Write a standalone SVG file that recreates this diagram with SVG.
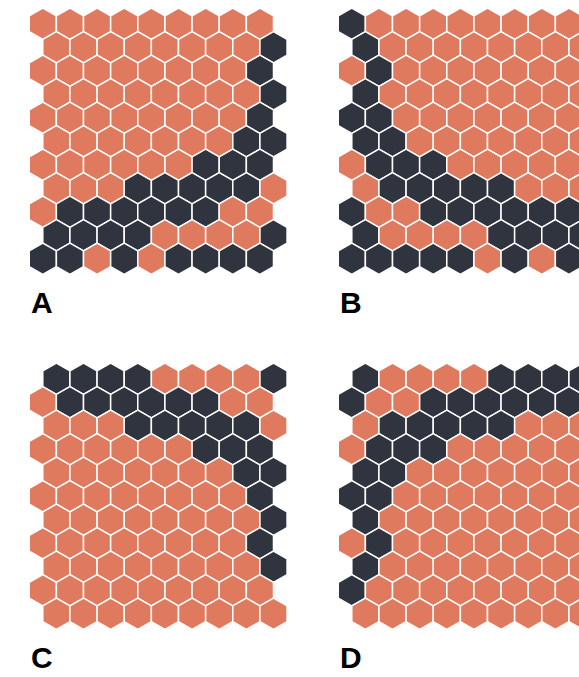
<svg xmlns="http://www.w3.org/2000/svg" width="579" height="677" viewBox="0 0 579 677">
<style>
.o{fill:#E07A5F}
.d{fill:#30343F}
use{stroke:#FFFFFF;stroke-width:1.5;stroke-linejoin:miter}
.lbl{font-family:"Liberation Sans",Arial,sans-serif;font-weight:bold;font-size:30px;fill:#000}
</style>
<defs>
<polygon id="h" points="0,-15.67 13.57,-7.835 13.57,7.835 0,15.67 -13.57,7.835 -13.57,-7.835"/>
</defs>
<rect width="579" height="677" fill="#FFFFFF"/>

<g id="panelA">
<g transform="translate(42.8,23.8)"><use href="#h" x="0" class="o"/><use href="#h" x="27.14" class="o"/><use href="#h" x="54.28" class="o"/><use href="#h" x="81.42" class="o"/><use href="#h" x="108.56" class="o"/><use href="#h" x="135.7" class="o"/><use href="#h" x="162.84" class="o"/><use href="#h" x="189.98" class="o"/><use href="#h" x="217.12" class="o"/></g>
<g transform="translate(56.37,47.3)"><use href="#h" x="0" class="o"/><use href="#h" x="27.14" class="o"/><use href="#h" x="54.28" class="o"/><use href="#h" x="81.42" class="o"/><use href="#h" x="108.56" class="o"/><use href="#h" x="135.7" class="o"/><use href="#h" x="162.84" class="o"/><use href="#h" x="189.98" class="o"/><use href="#h" x="217.12" class="d"/></g>
<g transform="translate(42.8,70.8)"><use href="#h" x="0" class="o"/><use href="#h" x="27.14" class="o"/><use href="#h" x="54.28" class="o"/><use href="#h" x="81.42" class="o"/><use href="#h" x="108.56" class="o"/><use href="#h" x="135.7" class="o"/><use href="#h" x="162.84" class="o"/><use href="#h" x="189.98" class="o"/><use href="#h" x="217.12" class="d"/></g>
<g transform="translate(56.37,94.3)"><use href="#h" x="0" class="o"/><use href="#h" x="27.14" class="o"/><use href="#h" x="54.28" class="o"/><use href="#h" x="81.42" class="o"/><use href="#h" x="108.56" class="o"/><use href="#h" x="135.7" class="o"/><use href="#h" x="162.84" class="o"/><use href="#h" x="189.98" class="o"/><use href="#h" x="217.12" class="d"/></g>
<g transform="translate(42.8,117.8)"><use href="#h" x="0" class="o"/><use href="#h" x="27.14" class="o"/><use href="#h" x="54.28" class="o"/><use href="#h" x="81.42" class="o"/><use href="#h" x="108.56" class="o"/><use href="#h" x="135.7" class="o"/><use href="#h" x="162.84" class="o"/><use href="#h" x="189.98" class="o"/><use href="#h" x="217.12" class="d"/></g>
<g transform="translate(56.37,141.3)"><use href="#h" x="0" class="o"/><use href="#h" x="27.14" class="o"/><use href="#h" x="54.28" class="o"/><use href="#h" x="81.42" class="o"/><use href="#h" x="108.56" class="o"/><use href="#h" x="135.7" class="o"/><use href="#h" x="162.84" class="o"/><use href="#h" x="189.98" class="d"/><use href="#h" x="217.12" class="d"/></g>
<g transform="translate(42.8,164.8)"><use href="#h" x="0" class="o"/><use href="#h" x="27.14" class="o"/><use href="#h" x="54.28" class="o"/><use href="#h" x="81.42" class="o"/><use href="#h" x="108.56" class="o"/><use href="#h" x="135.7" class="o"/><use href="#h" x="162.84" class="d"/><use href="#h" x="189.98" class="d"/><use href="#h" x="217.12" class="d"/></g>
<g transform="translate(56.37,188.3)"><use href="#h" x="0" class="o"/><use href="#h" x="27.14" class="o"/><use href="#h" x="54.28" class="o"/><use href="#h" x="81.42" class="d"/><use href="#h" x="108.56" class="d"/><use href="#h" x="135.7" class="d"/><use href="#h" x="162.84" class="d"/><use href="#h" x="189.98" class="d"/><use href="#h" x="217.12" class="o"/></g>
<g transform="translate(42.8,211.8)"><use href="#h" x="0" class="o"/><use href="#h" x="27.14" class="d"/><use href="#h" x="54.28" class="d"/><use href="#h" x="81.42" class="d"/><use href="#h" x="108.56" class="d"/><use href="#h" x="135.7" class="d"/><use href="#h" x="162.84" class="d"/><use href="#h" x="189.98" class="o"/><use href="#h" x="217.12" class="o"/></g>
<g transform="translate(56.37,235.3)"><use href="#h" x="0" class="d"/><use href="#h" x="27.14" class="d"/><use href="#h" x="54.28" class="d"/><use href="#h" x="81.42" class="d"/><use href="#h" x="108.56" class="o"/><use href="#h" x="135.7" class="o"/><use href="#h" x="162.84" class="o"/><use href="#h" x="189.98" class="o"/><use href="#h" x="217.12" class="d"/></g>
<g transform="translate(42.8,258.8)"><use href="#h" x="0" class="d"/><use href="#h" x="27.14" class="d"/><use href="#h" x="54.28" class="o"/><use href="#h" x="81.42" class="d"/><use href="#h" x="108.56" class="o"/><use href="#h" x="135.7" class="d"/><use href="#h" x="162.84" class="d"/><use href="#h" x="189.98" class="d"/><use href="#h" x="217.12" class="d"/></g>
<text class="lbl" x="31" y="313">A</text>
</g>

<g id="panelB" transform="translate(309,0)">
<g transform="translate(42.8,23.8)"><use href="#h" x="0" class="d"/><use href="#h" x="27.14" class="o"/><use href="#h" x="54.28" class="o"/><use href="#h" x="81.42" class="o"/><use href="#h" x="108.56" class="o"/><use href="#h" x="135.7" class="o"/><use href="#h" x="162.84" class="o"/><use href="#h" x="189.98" class="o"/><use href="#h" x="217.12" class="o"/></g>
<g transform="translate(56.37,47.3)"><use href="#h" x="0" class="d"/><use href="#h" x="27.14" class="o"/><use href="#h" x="54.28" class="o"/><use href="#h" x="81.42" class="o"/><use href="#h" x="108.56" class="o"/><use href="#h" x="135.7" class="o"/><use href="#h" x="162.84" class="o"/><use href="#h" x="189.98" class="o"/><use href="#h" x="217.12" class="o"/></g>
<g transform="translate(42.8,70.8)"><use href="#h" x="0" class="o"/><use href="#h" x="27.14" class="d"/><use href="#h" x="54.28" class="o"/><use href="#h" x="81.42" class="o"/><use href="#h" x="108.56" class="o"/><use href="#h" x="135.7" class="o"/><use href="#h" x="162.84" class="o"/><use href="#h" x="189.98" class="o"/><use href="#h" x="217.12" class="o"/></g>
<g transform="translate(56.37,94.3)"><use href="#h" x="0" class="d"/><use href="#h" x="27.14" class="o"/><use href="#h" x="54.28" class="o"/><use href="#h" x="81.42" class="o"/><use href="#h" x="108.56" class="o"/><use href="#h" x="135.7" class="o"/><use href="#h" x="162.84" class="o"/><use href="#h" x="189.98" class="o"/><use href="#h" x="217.12" class="o"/></g>
<g transform="translate(42.8,117.8)"><use href="#h" x="0" class="d"/><use href="#h" x="27.14" class="d"/><use href="#h" x="54.28" class="o"/><use href="#h" x="81.42" class="o"/><use href="#h" x="108.56" class="o"/><use href="#h" x="135.7" class="o"/><use href="#h" x="162.84" class="o"/><use href="#h" x="189.98" class="o"/><use href="#h" x="217.12" class="o"/></g>
<g transform="translate(56.37,141.3)"><use href="#h" x="0" class="d"/><use href="#h" x="27.14" class="d"/><use href="#h" x="54.28" class="o"/><use href="#h" x="81.42" class="o"/><use href="#h" x="108.56" class="o"/><use href="#h" x="135.7" class="o"/><use href="#h" x="162.84" class="o"/><use href="#h" x="189.98" class="o"/><use href="#h" x="217.12" class="o"/></g>
<g transform="translate(42.8,164.8)"><use href="#h" x="0" class="o"/><use href="#h" x="27.14" class="d"/><use href="#h" x="54.28" class="d"/><use href="#h" x="81.42" class="d"/><use href="#h" x="108.56" class="o"/><use href="#h" x="135.7" class="o"/><use href="#h" x="162.84" class="o"/><use href="#h" x="189.98" class="o"/><use href="#h" x="217.12" class="o"/></g>
<g transform="translate(56.37,188.3)"><use href="#h" x="0" class="o"/><use href="#h" x="27.14" class="d"/><use href="#h" x="54.28" class="d"/><use href="#h" x="81.42" class="d"/><use href="#h" x="108.56" class="d"/><use href="#h" x="135.7" class="d"/><use href="#h" x="162.84" class="o"/><use href="#h" x="189.98" class="o"/><use href="#h" x="217.12" class="o"/></g>
<g transform="translate(42.8,211.8)"><use href="#h" x="0" class="d"/><use href="#h" x="27.14" class="o"/><use href="#h" x="54.28" class="o"/><use href="#h" x="81.42" class="d"/><use href="#h" x="108.56" class="d"/><use href="#h" x="135.7" class="d"/><use href="#h" x="162.84" class="d"/><use href="#h" x="189.98" class="d"/><use href="#h" x="217.12" class="d"/></g>
<g transform="translate(56.37,235.3)"><use href="#h" x="0" class="d"/><use href="#h" x="27.14" class="o"/><use href="#h" x="54.28" class="o"/><use href="#h" x="81.42" class="o"/><use href="#h" x="108.56" class="o"/><use href="#h" x="135.7" class="d"/><use href="#h" x="162.84" class="d"/><use href="#h" x="189.98" class="d"/><use href="#h" x="217.12" class="d"/></g>
<g transform="translate(42.8,258.8)"><use href="#h" x="0" class="d"/><use href="#h" x="27.14" class="d"/><use href="#h" x="54.28" class="d"/><use href="#h" x="81.42" class="d"/><use href="#h" x="108.56" class="d"/><use href="#h" x="135.7" class="o"/><use href="#h" x="162.84" class="d"/><use href="#h" x="189.98" class="o"/><use href="#h" x="217.12" class="d"/></g>
<text class="lbl" x="31" y="313">B</text>
</g>

<g id="panelC" transform="translate(0,355)">
<g transform="translate(56.37,23.8)"><use href="#h" x="0" class="d"/><use href="#h" x="27.14" class="d"/><use href="#h" x="54.28" class="d"/><use href="#h" x="81.42" class="d"/><use href="#h" x="108.56" class="o"/><use href="#h" x="135.7" class="o"/><use href="#h" x="162.84" class="o"/><use href="#h" x="189.98" class="o"/><use href="#h" x="217.12" class="d"/></g>
<g transform="translate(42.8,47.3)"><use href="#h" x="0" class="o"/><use href="#h" x="27.14" class="d"/><use href="#h" x="54.28" class="d"/><use href="#h" x="81.42" class="d"/><use href="#h" x="108.56" class="d"/><use href="#h" x="135.7" class="d"/><use href="#h" x="162.84" class="d"/><use href="#h" x="189.98" class="o"/><use href="#h" x="217.12" class="o"/></g>
<g transform="translate(56.37,70.8)"><use href="#h" x="0" class="o"/><use href="#h" x="27.14" class="o"/><use href="#h" x="54.28" class="o"/><use href="#h" x="81.42" class="d"/><use href="#h" x="108.56" class="d"/><use href="#h" x="135.7" class="d"/><use href="#h" x="162.84" class="d"/><use href="#h" x="189.98" class="d"/><use href="#h" x="217.12" class="o"/></g>
<g transform="translate(42.8,94.3)"><use href="#h" x="0" class="o"/><use href="#h" x="27.14" class="o"/><use href="#h" x="54.28" class="o"/><use href="#h" x="81.42" class="o"/><use href="#h" x="108.56" class="o"/><use href="#h" x="135.7" class="o"/><use href="#h" x="162.84" class="d"/><use href="#h" x="189.98" class="d"/><use href="#h" x="217.12" class="d"/></g>
<g transform="translate(56.37,117.8)"><use href="#h" x="0" class="o"/><use href="#h" x="27.14" class="o"/><use href="#h" x="54.28" class="o"/><use href="#h" x="81.42" class="o"/><use href="#h" x="108.56" class="o"/><use href="#h" x="135.7" class="o"/><use href="#h" x="162.84" class="o"/><use href="#h" x="189.98" class="d"/><use href="#h" x="217.12" class="d"/></g>
<g transform="translate(42.8,141.3)"><use href="#h" x="0" class="o"/><use href="#h" x="27.14" class="o"/><use href="#h" x="54.28" class="o"/><use href="#h" x="81.42" class="o"/><use href="#h" x="108.56" class="o"/><use href="#h" x="135.7" class="o"/><use href="#h" x="162.84" class="o"/><use href="#h" x="189.98" class="o"/><use href="#h" x="217.12" class="d"/></g>
<g transform="translate(56.37,164.8)"><use href="#h" x="0" class="o"/><use href="#h" x="27.14" class="o"/><use href="#h" x="54.28" class="o"/><use href="#h" x="81.42" class="o"/><use href="#h" x="108.56" class="o"/><use href="#h" x="135.7" class="o"/><use href="#h" x="162.84" class="o"/><use href="#h" x="189.98" class="o"/><use href="#h" x="217.12" class="d"/></g>
<g transform="translate(42.8,188.3)"><use href="#h" x="0" class="o"/><use href="#h" x="27.14" class="o"/><use href="#h" x="54.28" class="o"/><use href="#h" x="81.42" class="o"/><use href="#h" x="108.56" class="o"/><use href="#h" x="135.7" class="o"/><use href="#h" x="162.84" class="o"/><use href="#h" x="189.98" class="o"/><use href="#h" x="217.12" class="d"/></g>
<g transform="translate(56.37,211.8)"><use href="#h" x="0" class="o"/><use href="#h" x="27.14" class="o"/><use href="#h" x="54.28" class="o"/><use href="#h" x="81.42" class="o"/><use href="#h" x="108.56" class="o"/><use href="#h" x="135.7" class="o"/><use href="#h" x="162.84" class="o"/><use href="#h" x="189.98" class="o"/><use href="#h" x="217.12" class="d"/></g>
<g transform="translate(42.8,235.3)"><use href="#h" x="0" class="o"/><use href="#h" x="27.14" class="o"/><use href="#h" x="54.28" class="o"/><use href="#h" x="81.42" class="o"/><use href="#h" x="108.56" class="o"/><use href="#h" x="135.7" class="o"/><use href="#h" x="162.84" class="o"/><use href="#h" x="189.98" class="o"/><use href="#h" x="217.12" class="o"/></g>
<g transform="translate(56.37,258.8)"><use href="#h" x="0" class="o"/><use href="#h" x="27.14" class="o"/><use href="#h" x="54.28" class="o"/><use href="#h" x="81.42" class="o"/><use href="#h" x="108.56" class="o"/><use href="#h" x="135.7" class="o"/><use href="#h" x="162.84" class="o"/><use href="#h" x="189.98" class="o"/><use href="#h" x="217.12" class="o"/></g>
<text class="lbl" x="31" y="313">C</text>
</g>

<g id="panelD" transform="translate(309,355)">
<g transform="translate(56.37,23.8)"><use href="#h" x="0" class="d"/><use href="#h" x="27.14" class="o"/><use href="#h" x="54.28" class="o"/><use href="#h" x="81.42" class="o"/><use href="#h" x="108.56" class="o"/><use href="#h" x="135.7" class="d"/><use href="#h" x="162.84" class="d"/><use href="#h" x="189.98" class="d"/><use href="#h" x="217.12" class="d"/></g>
<g transform="translate(42.8,47.3)"><use href="#h" x="0" class="d"/><use href="#h" x="27.14" class="o"/><use href="#h" x="54.28" class="o"/><use href="#h" x="81.42" class="d"/><use href="#h" x="108.56" class="d"/><use href="#h" x="135.7" class="d"/><use href="#h" x="162.84" class="d"/><use href="#h" x="189.98" class="d"/><use href="#h" x="217.12" class="d"/></g>
<g transform="translate(56.37,70.8)"><use href="#h" x="0" class="o"/><use href="#h" x="27.14" class="d"/><use href="#h" x="54.28" class="d"/><use href="#h" x="81.42" class="d"/><use href="#h" x="108.56" class="d"/><use href="#h" x="135.7" class="d"/><use href="#h" x="162.84" class="o"/><use href="#h" x="189.98" class="o"/><use href="#h" x="217.12" class="o"/></g>
<g transform="translate(42.8,94.3)"><use href="#h" x="0" class="o"/><use href="#h" x="27.14" class="d"/><use href="#h" x="54.28" class="d"/><use href="#h" x="81.42" class="d"/><use href="#h" x="108.56" class="o"/><use href="#h" x="135.7" class="o"/><use href="#h" x="162.84" class="o"/><use href="#h" x="189.98" class="o"/><use href="#h" x="217.12" class="o"/></g>
<g transform="translate(56.37,117.8)"><use href="#h" x="0" class="d"/><use href="#h" x="27.14" class="d"/><use href="#h" x="54.28" class="o"/><use href="#h" x="81.42" class="o"/><use href="#h" x="108.56" class="o"/><use href="#h" x="135.7" class="o"/><use href="#h" x="162.84" class="o"/><use href="#h" x="189.98" class="o"/><use href="#h" x="217.12" class="o"/></g>
<g transform="translate(42.8,141.3)"><use href="#h" x="0" class="d"/><use href="#h" x="27.14" class="d"/><use href="#h" x="54.28" class="o"/><use href="#h" x="81.42" class="o"/><use href="#h" x="108.56" class="o"/><use href="#h" x="135.7" class="o"/><use href="#h" x="162.84" class="o"/><use href="#h" x="189.98" class="o"/><use href="#h" x="217.12" class="o"/></g>
<g transform="translate(56.37,164.8)"><use href="#h" x="0" class="d"/><use href="#h" x="27.14" class="o"/><use href="#h" x="54.28" class="o"/><use href="#h" x="81.42" class="o"/><use href="#h" x="108.56" class="o"/><use href="#h" x="135.7" class="o"/><use href="#h" x="162.84" class="o"/><use href="#h" x="189.98" class="o"/><use href="#h" x="217.12" class="o"/></g>
<g transform="translate(42.8,188.3)"><use href="#h" x="0" class="o"/><use href="#h" x="27.14" class="d"/><use href="#h" x="54.28" class="o"/><use href="#h" x="81.42" class="o"/><use href="#h" x="108.56" class="o"/><use href="#h" x="135.7" class="o"/><use href="#h" x="162.84" class="o"/><use href="#h" x="189.98" class="o"/><use href="#h" x="217.12" class="o"/></g>
<g transform="translate(56.37,211.8)"><use href="#h" x="0" class="d"/><use href="#h" x="27.14" class="o"/><use href="#h" x="54.28" class="o"/><use href="#h" x="81.42" class="o"/><use href="#h" x="108.56" class="o"/><use href="#h" x="135.7" class="o"/><use href="#h" x="162.84" class="o"/><use href="#h" x="189.98" class="o"/><use href="#h" x="217.12" class="o"/></g>
<g transform="translate(42.8,235.3)"><use href="#h" x="0" class="d"/><use href="#h" x="27.14" class="o"/><use href="#h" x="54.28" class="o"/><use href="#h" x="81.42" class="o"/><use href="#h" x="108.56" class="o"/><use href="#h" x="135.7" class="o"/><use href="#h" x="162.84" class="o"/><use href="#h" x="189.98" class="o"/><use href="#h" x="217.12" class="o"/></g>
<g transform="translate(56.37,258.8)"><use href="#h" x="0" class="o"/><use href="#h" x="27.14" class="o"/><use href="#h" x="54.28" class="o"/><use href="#h" x="81.42" class="o"/><use href="#h" x="108.56" class="o"/><use href="#h" x="135.7" class="o"/><use href="#h" x="162.84" class="o"/><use href="#h" x="189.98" class="o"/><use href="#h" x="217.12" class="o"/></g>
<text class="lbl" x="31" y="313">D</text>
</g>
</svg>
